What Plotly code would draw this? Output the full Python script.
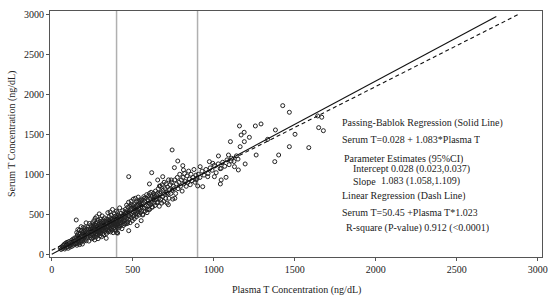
import plotly.graph_objects as go

# ---- data ----
p1 = [52, 58, 63, 67, 70, 74, 77, 80, 83, 86,
      89, 92, 95, 98, 101, 104, 107, 110, 113, 116,
      119, 122, 125, 128, 131, 135, 139, 142, 146, 149]
s1 = [78, 60, 95, 72, 110, 88, 125, 66, 102, 140,
      84, 118, 150, 97, 75, 132, 160, 108, 90, 145,
      122, 175, 100, 138, 190, 115, 160, 205, 130, 172]

p2 = [151, 152, 154, 155, 157, 158, 160, 161, 163, 164,
      166, 167, 169, 170, 172, 173, 175, 176, 178, 180,
      181, 183, 184, 186, 188, 189, 191, 193, 194, 196,
      198, 199, 201, 203, 205, 206, 208, 210, 212, 213,
      215, 217, 219, 221, 223, 225, 227, 229, 231, 233,
      235, 237, 239, 241, 243, 244, 246, 247, 249, 250]
s2 = [139, 210, 272, 113, 195, 241, 168, 309, 136, 217,
      264, 160, 202, 299, 121, 247, 194, 265, 147, 224,
      345, 187, 293, 170, 252, 128, 271, 223, 334, 196,
      248, 164, 306, 273, 220, 331, 188, 251, 393, 169,
      276, 313, 210, 257, 339, 236, 313, 165, 288, 385,
      232, 314, 211, 363, 285, 251, 348, 194, 316, 283]

p3 = [251, 252, 253, 255, 256, 257, 258, 260, 261, 262,
      263, 265, 266, 267, 268, 270, 271, 272, 273, 275,
      276, 277, 278, 280, 281, 282, 283, 285, 286, 287,
      288, 290, 291, 292, 293, 295, 296, 297, 298, 300,
      301, 302, 303, 305, 306, 307, 308, 310, 311, 312,
      313, 315, 316, 317, 318, 320, 321, 322, 323, 325,
      326, 328, 330, 332, 334, 336, 338, 340, 341, 343,
      344, 346, 347, 349, 350]
s3 = [240, 330, 395, 205, 300, 355, 260, 420, 225, 315,
      370, 180, 280, 340, 450, 250, 310, 385, 215, 290,
      360, 470, 265, 335, 240, 400, 300, 350, 195, 425,
      275, 320, 380, 255, 505, 300, 345, 230, 410, 285,
      360, 440, 265, 330, 390, 220, 310, 370, 480, 290,
      345, 405, 260, 325, 430, 300, 365, 245, 395, 330,
      455, 285, 350, 410, 310, 375, 260, 440, 335, 395,
      300, 520, 360, 280, 415]

p4 = [351, 352, 354, 355, 356, 358, 359, 360, 362, 363,
      364, 366, 367, 368, 370, 371, 372, 374, 375, 376,
      378, 379, 380, 382, 383, 384, 386, 387, 388, 390,
      391, 392, 394, 395, 396, 398, 399, 400, 402, 403,
      404, 406, 407, 408, 410, 411, 412, 414, 415, 416,
      418, 419, 420, 422, 423, 425, 427, 429, 431, 433,
      435, 437, 439, 441, 443, 445, 446, 448, 449, 450]
s4 = [345, 430, 300, 470, 380, 325, 410, 530, 355, 280,
      445, 390, 320, 490, 370, 435, 300, 395, 560, 345,
      420, 270, 375, 455, 330, 400, 505, 360, 440, 310,
      385, 475, 350, 415, 290, 430, 540, 375, 460, 340,
      405, 520, 265, 380, 445, 355, 490, 410, 330, 465,
      385, 580, 425, 350, 470, 400, 510, 370, 445, 320,
      480, 405, 545, 430, 360, 500, 415, 455, 380, 525]

p5 = [452, 454, 456, 458, 460, 462, 464, 466, 468, 470,
      472, 474, 476, 478, 480, 482, 484, 486, 488, 490,
      492, 494, 496, 498, 500, 502, 504, 506, 508, 510,
      512, 514, 516, 518, 520, 522, 524, 526, 528, 530,
      532, 534, 536, 538, 540, 542, 544, 546, 548, 550,
      453, 467, 489, 511, 537]
s5 = [430, 560, 475, 380, 520, 615, 450, 545, 405, 590,
      480, 650, 440, 535, 470, 600, 395, 555, 500, 665,
      455, 575, 510, 420, 610, 525, 690, 480, 570, 445,
      630, 540, 700, 505, 595, 470, 655, 560, 500, 620,
      530, 715, 575, 490, 640, 555, 680, 610, 520, 665,
      505, 385, 620, 575, 660]

p6 = [553, 556, 559, 562, 565, 568, 571, 574, 577, 580,
      583, 586, 589, 592, 595, 598, 601, 604, 607, 610,
      613, 616, 619, 622, 625, 628, 631, 634, 637, 640,
      643, 646, 649, 557, 572, 588, 603, 618, 633, 648]
s6 = [540, 680, 590, 500, 640, 720, 575, 665, 540, 700,
      610, 745, 560, 680, 600, 730, 640, 560, 700, 620,
      775, 650, 720, 590, 690, 760, 640, 720, 610, 790,
      680, 740, 650, 620, 700, 520, 760, 590, 740, 700]

p7 = [652, 655, 658, 661, 664, 667, 670, 673, 676, 679,
      682, 685, 688, 691, 694, 697, 700, 703, 706, 709,
      712, 715, 718, 721, 724, 727, 731, 735, 739, 743,
      747, 750]
s7 = [760, 650, 820, 700, 600, 760, 850, 690, 780, 640,
      870, 720, 800, 660, 900, 750, 820, 700, 880, 770,
      640, 840, 760, 930, 700, 810, 870, 760, 900, 800,
      690, 850]

p8 = [755, 760, 765, 770, 775, 780, 785, 790, 795, 800,
      805, 810, 815, 820, 825, 830, 835, 840, 845, 850,
      855, 860, 866, 872, 878, 884, 890, 897]
s8 = [820, 930, 760, 880, 960, 820, 900, 1000, 850, 930,
      790, 960, 880, 1010, 910, 850, 980, 900, 1040, 940,
      870, 1000, 920, 960, 1060, 900, 990, 950]

p9 = [905, 915, 928, 940, 952, 965, 978, 990, 1003, 1015,
      1028, 1040, 1055, 1068, 1082, 1095, 1110, 1125, 1140, 1150]
s9 = [1000, 960, 1040, 990, 1060, 1010, 1080, 1050, 1110, 1020,
      1130, 1070, 1150, 1100, 1180, 1120, 1200, 1160, 1230, 1190]

p_out = [743, 778, 809, 813, 757, 475, 617, 1159, 1169, 1188,
         1220, 1103, 1257, 1292, 1426, 1467, 1381, 1502, 1467, 1377,
         1401, 1587, 1648, 1642, 1262, 1333, 916, 973, 994, 963,
         1004, 1046, 1041, 1076, 1029, 1091, 1107, 1152, 1128, 1194,
         1046, 932, 901, 891, 475, 527, 552, 401, 336, 151,
         1677, 1667, 1163, 1189, 654, 685, 737, 665, 603, 562,
         599, 720, 760]
s_out = [1304, 1166, 1108, 1054, 1083, 970, 1020, 1604, 1491, 1525,
         1462, 1408, 1604, 1629, 1858, 1775, 1554, 1500, 1345, 1158,
         1241, 1333, 1583, 1729, 1241, 1437, 1095, 1158, 1137, 970,
         970, 929, 879, 962, 1229, 1241, 1166, 1054, 1095, 1129,
         1075, 845, 854, 929, 295, 358, 420, 270, 200, 429,
         1545, 1713, 1345, 1408, 929, 970, 929, 854, 879, 491,
         562, 620, 700]

plasma = p1 + p2 + p3 + p4 + p5 + p6 + p7 + p8 + p9 + p_out
serum = s1 + s2 + s3 + s4 + s5 + s6 + s7 + s8 + s9 + s_out

# regression lines (coefficients from the chart) and their x extents
pb_intercept, pb_slope = 0.028, 1.083
lr_intercept, lr_slope = 50.45, 1.023
pb_x = [0, 2745]
lr_x = [0, 2880]
ref_x = [400, 900]   # vertical reference lines

x_ticks = [0, 500, 1000, 1500, 2000, 2500, 3000]
y_ticks = [0, 500, 1000, 1500, 2000, 2500, 3000]

FONT = "Liberation Serif"
TXT = "#222222"

fig = go.Figure()

for xv in ref_x:
    fig.add_shape(type="line", x0=xv, x1=xv, y0=0, y1=1, yref="paper",
                  line=dict(color="#b0b0b0", width=1.5), layer="below")

fig.add_trace(go.Scatter(
    x=plasma, y=serum, mode="markers",
    marker=dict(symbol="circle-open", size=4, color="#222222",
                line=dict(width=1, color="#222222")),
    showlegend=False, hoverinfo="x+y"))

fig.add_trace(go.Scatter(
    x=pb_x, y=[pb_intercept + pb_slope * v for v in pb_x], mode="lines",
    line=dict(color="#111111", width=1.1), showlegend=False))

fig.add_trace(go.Scatter(
    x=lr_x, y=[lr_intercept + lr_slope * v for v in lr_x], mode="lines",
    line=dict(color="#111111", width=1.1, dash="4px,3px"), showlegend=False))

ann = [
    ("Passing-Bablok Regression (Solid Line)", 1786, 1637),
    ("Serum T=0.028 + 1.083*Plasma T", 1786, 1437),
    ("Parameter Estimates (95%CI)", 1801, 1191),
    ("Intercept 0.028 (0.023,0.037)", 1852, 1062),
    ("Slope", 1852, 916),
    ("1.083 (1.058,1.109)", 2027, 916),
    ("Linear Regression (Dash Line)", 1786, 729),
    ("Serum T=50.45 +Plasma T*1.023", 1786, 532),
    ("R-square (P-value) 0.912 (<0.0001)", 1811, 325),
]
for txt, ax_, ay_ in ann:
    fig.add_annotation(x=ax_, y=ay_, text=txt, showarrow=False,
                       xanchor="left", yanchor="middle", height=10,
                       borderpad=0,
                       font=dict(family=FONT, size=10, color=TXT))

# axis titles as annotations in paper space, placed where the reference has them
fig.add_annotation(text="Plasma T Concentration (ng/dL)", xref="paper", yref="paper",
                   x=0.5, y=-0.1, yanchor="top", xanchor="center", showarrow=False,
                   font=dict(family=FONT, size=10, color=TXT))
fig.add_annotation(text="Serum T Concentration (ng/dL)", xref="paper", yref="paper",
                   x=-0.077, y=0.5, xanchor="center", yanchor="middle", textangle=-90,
                   showarrow=False, font=dict(family=FONT, size=10, color=TXT))

axis_common = dict(showgrid=False, zeroline=False, showline=True,
                   linecolor="#555555", linewidth=1, mirror=True,
                   ticks="outside", ticklen=3, tickcolor="#555555",
                   automargin=False,
                   tickfont=dict(family=FONT, size=10, color=TXT))

fig.update_xaxes(range=[-11, 3027], tickvals=x_ticks, **axis_common)
fig.update_yaxes(range=[-34, 3041], tickvals=y_ticks, **axis_common)

fig.update_layout(width=550, height=297,
                  margin=dict(l=50, r=8, t=11, b=40),
                  paper_bgcolor="white", plot_bgcolor="white",
                  font=dict(family=FONT))

# remove the browser's default page margin so the figure sits at the window origin
fig.write_html("out.html", config={"displayModeBar": False},
               post_script="document.body.style.margin='0';")
